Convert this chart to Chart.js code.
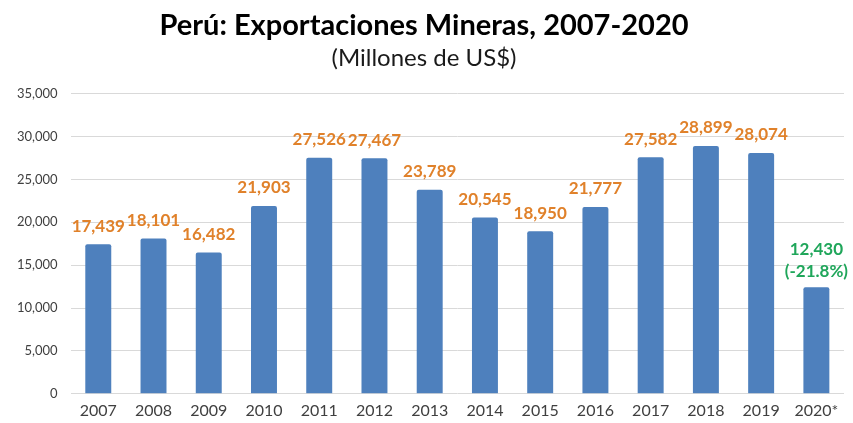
<!DOCTYPE html>
<html>
<head>
<meta charset="utf-8">
<script src="https://cdn.jsdelivr.net/npm/chart.js@4/dist/chart.umd.min.js"></script>
<style>
  html, body { margin: 0; padding: 0; background: #ffffff; }
  #wrap { width: 853px; height: 423px; }
</style>
</head>
<body>
<div id="wrap"><canvas id="c" width="853" height="423"></canvas></div>
<script>
// Mining exports of Peru, millions of US$
const years = ['2007', '2008', '2009', '2010', '2011', '2012', '2013',
               '2014', '2015', '2016', '2017', '2018', '2019', '2020*'];
const exportsMUSD = [17439, 18101, 16482, 21903, 27526, 27467, 23789,
                     20545, 18950, 21777, 27582, 28899, 28074, 12430];
const change2020 = -21.8;   // % change of the preliminary 2020 figure
const yTicks = [0, 5000, 10000, 15000, 20000, 25000, 30000, 35000];

const FONT = 'Lato, "Open Sans", sans-serif';
const fmt = v => v.toLocaleString('en-US');

// Value labels above each bar; the last (preliminary) year is highlighted
const valueLabels = {
  id: 'valueLabels',
  afterDatasetsDraw(chart) {
    const ctx = chart.ctx;
    const meta = chart.getDatasetMeta(0);
    const last = exportsMUSD.length - 1;
    ctx.save();
    ctx.textAlign = 'center';
    ctx.textBaseline = 'middle';
    ctx.font = 'bold 17px ' + FONT;
    meta.data.forEach((bar, i) => {
      const v = exportsMUSD[i];
      if (i === last) {
        ctx.fillStyle = '#1fa65a';
        ctx.fillText(fmt(v), bar.x, bar.y - 38);
        ctx.fillText('(' + change2020.toFixed(1) + '%)', bar.x, bar.y - 16);
      } else {
        ctx.fillStyle = '#e0812a';
        ctx.fillText(fmt(v), bar.x, bar.y - 18);
      }
    });
    ctx.restore();
  }
};

new Chart(document.getElementById('c'), {
  type: 'bar',
  data: {
    labels: years,
    datasets: [{
      data: exportsMUSD,
      backgroundColor: '#4e80bd',
      borderRadius: { topLeft: 2, topRight: 2 },
      borderSkipped: 'bottom',
      categoryPercentage: 1,
      barPercentage: 0.47
    }]
  },
  options: {
    responsive: false,
    animation: false,
    devicePixelRatio: 1,
    layout: { padding: { left: 4, right: 9, top: 0, bottom: -4 } },
    plugins: {
      legend: { display: false },
      tooltip: { enabled: false },
      title: {
        display: true,
        text: 'Perú: Exportaciones Mineras, 2007-2020',
        color: '#000000',
        font: { family: FONT, size: 29, weight: 'bold' },
        padding: { top: 8, bottom: 0 }
      },
      subtitle: {
        display: true,
        text: '(Millones de US$)',
        color: '#1a1a1a',
        font: { family: FONT, size: 24 },
        padding: { top: 1, bottom: 21 }
      }
    },
    scales: {
      x: {
        grid: { display: false, drawTicks: false },
        border: { display: false },
        ticks: { color: '#404040', font: { family: FONT, size: 16 }, padding: 7 }
      },
      y: {
        min: 0,
        max: 35000,
        afterBuildTicks(scale) { scale.ticks = yTicks.map(v => ({ value: v })); },
        grid: { color: '#d9d9d9', lineWidth: 1, drawTicks: false },
        border: { display: false },
        ticks: {
          color: '#404040',
          font: { family: FONT, size: 13 },
          padding: 13,
          callback: v => fmt(v)
        }
      }
    }
  },
  plugins: [valueLabels]
});
</script>
</body>
</html>
